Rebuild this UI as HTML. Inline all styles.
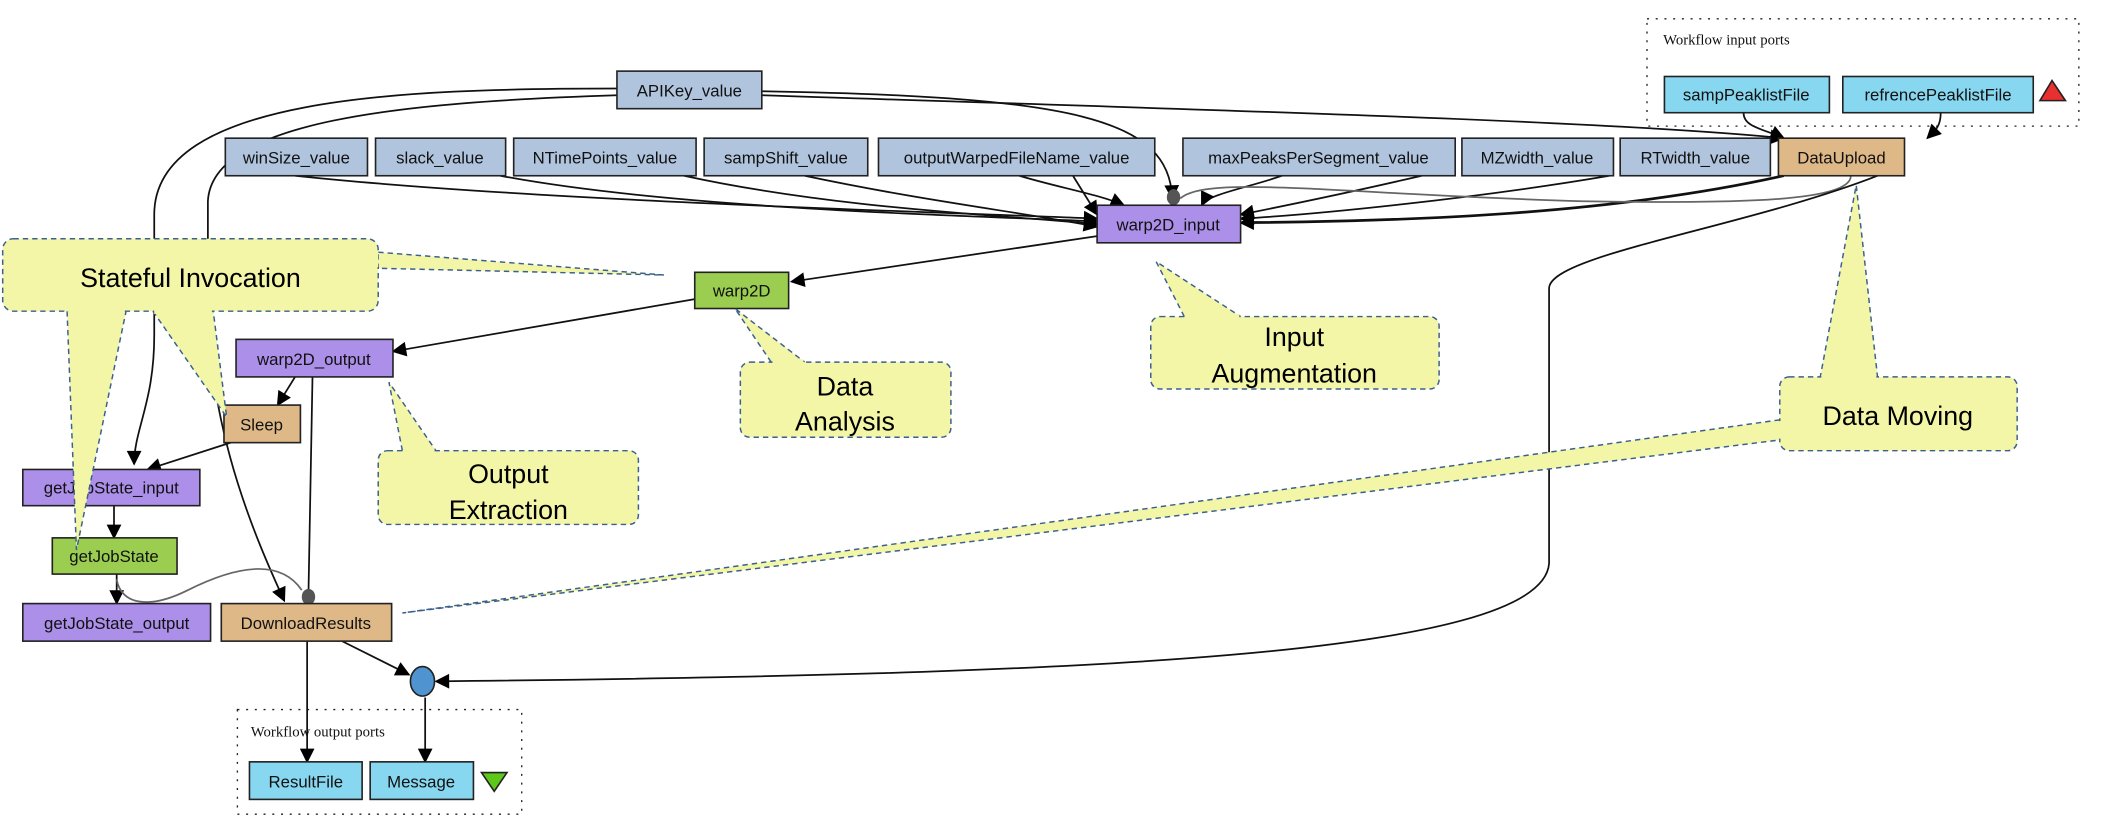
<!DOCTYPE html>
<html><head><meta charset="utf-8"><style>
html,body{margin:0;padding:0;background:#fff;width:2103px;height:839px;overflow:hidden}
svg{display:block}
.n{font-family:"Liberation Sans",sans-serif;font-size:12.5px;fill:#111}
.c{font-family:"Liberation Sans Narrow","Liberation Sans",sans-serif;font-size:20px;fill:#000}
.e{fill:none;stroke:#111;stroke-width:1.3}
.g{fill:none;stroke:#666;stroke-width:1.3}
.co{fill:#f3f6a6;stroke:#3b6090;stroke-width:1.1;stroke-dasharray:4,3}
.cf{fill:#f3f6a6;stroke:none}
.cl{fill:none;stroke:#3b6090;stroke-width:1.1;stroke-dasharray:4,3}
.p{font-family:"Liberation Serif",serif;font-size:11px;fill:#111}
</style></head><body>
<svg width="2103" height="839" viewBox="0 0 1568 625.5" xmlns="http://www.w3.org/2000/svg">
<defs>
<marker id="a" viewBox="0 0 10 10" refX="9" refY="5" markerWidth="13" markerHeight="11" markerUnits="userSpaceOnUse" orient="auto"><path d="M0,0L10,5L0,10z" fill="#000"/></marker>
</defs>
<rect x="1228" y="14" width="322" height="80" fill="none" stroke="#222" stroke-width="1" stroke-dasharray="1.5,5"/>
<text class="p" x="1240" y="33">Workflow input ports</text>
<rect x="177" y="529" width="212" height="78" fill="none" stroke="#222" stroke-width="1" stroke-dasharray="1.5,5"/>
<text class="p" x="187" y="549">Workflow output ports</text>

<path class="e" d="M460,66 C300,66 115,72 115,160 L115,250 C115,300 100,320 100,346" marker-end="url(#a)"/>
<path class="e" d="M460,71 C300,76 158,90 155,150 L155,240 C160,330 190,400 212,448" marker-end="url(#a)"/>
<path class="e" d="M568,68 C800,72 872,88 874,148" marker-end="url(#a)"/>
<path class="e" d="M568,71 C900,82 1200,90 1330,103" marker-end="url(#a)"/>
<path class="e" d="M220,131 C400,150 700,158 818,163" marker-end="url(#a)"/>
<path class="e" d="M373,131 C500,155 700,160 818,165" marker-end="url(#a)"/>
<path class="e" d="M510,131 C620,155 740,160 818,167" marker-end="url(#a)"/>
<path class="e" d="M600,131 C690,150 760,158 818,169" marker-end="url(#a)"/>
<path class="e" d="M760,131 C790,140 820,145 838,153" marker-end="url(#a)"/>
<path class="e" d="M800,131 L818,160" marker-end="url(#a)"/>
<path class="e" d="M956,131 C930,140 900,145 896,153" marker-end="url(#a)"/>
<path class="e" d="M1060,131 C1000,145 950,155 925,160" marker-end="url(#a)"/>
<path class="e" d="M1200,131 C1100,148 980,160 925,163" marker-end="url(#a)"/>
<path class="e" style="stroke-width:2" d="M1330,131 C1200,160 1050,165 925,166" marker-end="url(#a)"/>
<path class="g" d="M1380,131 C1380,150 1300,152 1180,150 C1000,145 900,130 880,148"/>
<path class="e" d="M1300,84 C1300,95 1315,96 1330,103" marker-end="url(#a)"/>
<path class="e" d="M1447,84 C1447,95 1442,98 1437,103" marker-end="url(#a)"/>
<ellipse cx="875" cy="147" rx="5" ry="6" fill="#555"/>
<path class="e" d="M818,176 L590,210" marker-end="url(#a)"/>
<path class="e" d="M518,223 L293,262" marker-end="url(#a)"/>
<path class="e" d="M220,281 L207,302" marker-end="url(#a)"/>
<path class="e" d="M233,281 L230,442"/>
<ellipse cx="230" cy="445" rx="5" ry="6" fill="#555"/>
<path class="e" d="M172,330 L110,350" marker-end="url(#a)"/>
<path class="e" d="M85,377 L85,401" marker-end="url(#a)"/>
<path class="e" d="M87,428 L87,450" marker-end="url(#a)"/>
<path class="g" d="M87,432 C90,450 110,455 140,440 C180,420 210,418 225,440"/>
<path class="e" d="M255,478 L305,503" marker-end="url(#a)"/>
<path class="e" d="M1400,131 C1300,170 1155,190 1155,215 L1155,420 C1150,490 800,503 325,508" marker-end="url(#a)"/>
<path class="e" d="M229,478 L229,568" marker-end="url(#a)"/>
<path class="e" d="M317,520 L317,568" marker-end="url(#a)"/>

<g stroke="#222" stroke-width="1.2">
<rect x="460" y="53" width="108" height="28" fill="#b0c4de"/>
<rect x="168" y="103" width="106" height="28" fill="#b0c4de"/>
<rect x="280" y="103" width="97" height="28" fill="#b0c4de"/>
<rect x="383" y="103" width="136" height="28" fill="#b0c4de"/>
<rect x="525" y="103" width="122" height="28" fill="#b0c4de"/>
<rect x="655" y="103" width="206" height="28" fill="#b0c4de"/>
<rect x="882" y="103" width="203" height="28" fill="#b0c4de"/>
<rect x="1090" y="103" width="113" height="28" fill="#b0c4de"/>
<rect x="1208" y="103" width="112" height="28" fill="#b0c4de"/>
<rect x="1326" y="103" width="94" height="28" fill="#deb887"/>
<rect x="1241" y="57" width="123" height="27" fill="#87d7f0"/>
<rect x="1374" y="57" width="142" height="27" fill="#87d7f0"/>
<rect x="818" y="153" width="107" height="28" fill="#ab8fe8"/>
<rect x="518" y="203" width="70" height="27" fill="#9acd50"/>
<rect x="176" y="253" width="117" height="28" fill="#ab8fe8"/>
<rect x="167" y="302" width="57" height="28" fill="#deb887"/>
<rect x="17" y="350" width="132" height="27" fill="#ab8fe8"/>
<rect x="39" y="401" width="93" height="27" fill="#9acd50"/>
<rect x="17" y="450" width="140" height="28" fill="#ab8fe8"/>
<rect x="165" y="450" width="127" height="28" fill="#deb887"/>
<rect x="186" y="568" width="84" height="28" fill="#87d7f0"/>
<rect x="276" y="568" width="77" height="28" fill="#87d7f0"/>
<ellipse cx="315" cy="508" rx="9" ry="11" fill="#4f93d0"/>
<path d="M1530,60 L1540,75 L1521,75z" fill="#e83030"/>
<path d="M359,576 L378,576 L368.5,590z" fill="#5ec81a"/>
</g>
<g class="n" text-anchor="middle">
<text x="514" y="72">APIKey_value</text>
<text x="221" y="122">winSize_value</text>
<text x="328" y="122">slack_value</text>
<text x="451" y="122">NTimePoints_value</text>
<text x="586" y="122">sampShift_value</text>
<text x="758" y="122">outputWarpedFileName_value</text>
<text x="983" y="122">maxPeaksPerSegment_value</text>
<text x="1146" y="122">MZwidth_value</text>
<text x="1264" y="122">RTwidth_value</text>
<text x="1373" y="122">DataUpload</text>
<text x="1302" y="75">sampPeaklistFile</text>
<text x="1445" y="75">refrencePeaklistFile</text>
<text x="871" y="172">warp2D_input</text>
<text x="553" y="221">warp2D</text>
<text x="234" y="272">warp2D_output</text>
<text x="195" y="321">Sleep</text>
<text x="83" y="368">getJobState_input</text>
<text x="85" y="419">getJobState</text>
<text x="87" y="469">getJobState_output</text>
<text x="228" y="469">DownloadResults</text>
<text x="228" y="587">ResultFile</text>
<text x="314" y="587">Message</text>
</g>

<path class="cf" d="M282,188 L495,205 L282,200z M50,232 L57,410 L94,232z M114,232 L169,311 L159,232z"/>
<path class="cl" d="M282,188 L495,205 L282,200 M50,232 L57,410 L94,232 M114,232 L169,311 L159,232"/>
<rect class="co" x="2" y="178" width="280" height="54" rx="8"/>
<rect class="cf" x="3" y="179" width="278" height="52" rx="7"/>
<path class="cf" d="M282,189 L282,199 L275,199 L275,189z M51,228 L93,228 L93,234 L51,234z M115,228 L158,228 L158,234 L115,234z"/>
<text class="c" x="142" y="214" text-anchor="middle">Stateful Invocation</text>
<path class="co" d="M575,270 L548,230 L600,270"/>
<rect class="co" x="552" y="270" width="157" height="56" rx="7"/>
<path class="cf" d="M576,268 L599,268 L599,273 L576,273z"/>
<text class="c" x="630" y="295" text-anchor="middle">Data</text>
<text class="c" x="630" y="321" text-anchor="middle">Analysis</text>
<path class="co" d="M300,336 L290,285 L325,336"/>
<rect class="co" x="282" y="336" width="194" height="55" rx="7"/>
<path class="cf" d="M301,334 L324,334 L324,339 L301,339z"/>
<text class="c" x="379" y="360" text-anchor="middle">Output</text>
<text class="c" x="379" y="387" text-anchor="middle">Extraction</text>
<path class="co" d="M883,236 L862,195 L925,236"/>
<rect class="co" x="858" y="236" width="215" height="54" rx="7"/>
<path class="cf" d="M884,234 L924,234 L924,239 L884,239z"/>
<text class="c" x="965" y="258" text-anchor="middle">Input</text>
<text class="c" x="965" y="285" text-anchor="middle">Augmentation</text>
<path class="cf" d="M1357,282 L1384,138 L1400,282z M1327,313 L300,457 L1327,328z"/>
<path class="cl" d="M1357,282 L1384,138 L1400,282 M1327,313 L300,457 L1327,328"/>
<rect class="co" x="1327" y="281" width="177" height="55" rx="7"/>
<path class="cf" d="M1358,279 L1399,279 L1399,285 L1358,285z M1324,314 L1330,314 L1330,327 L1324,327z"/>
<text class="c" x="1415" y="317" text-anchor="middle">Data Moving</text>
</svg>
</body></html>
